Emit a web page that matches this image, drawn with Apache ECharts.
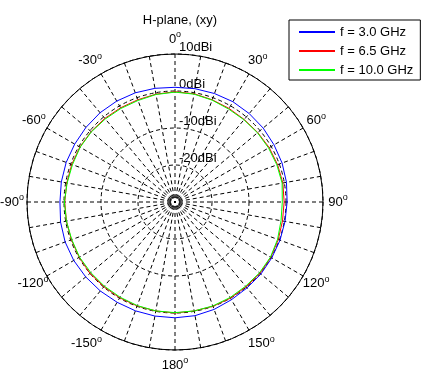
<!DOCTYPE html>
<html><head><meta charset="utf-8">
<script src="https://cdn.jsdelivr.net/npm/echarts@6/dist/echarts.min.js"></script>
<style>html,body{margin:0;padding:0;background:#fff}#c{width:423px;height:373px}</style>
</head><body><div id="c"></div>
<script>
// angle in degrees, clockwise from top (0..360)
const angles = [0,10,20,30,40,50,60,70,80,90,100,110,120,130,140,150,160,170,180,190,200,210,220,230,240,250,260,270,280,290,300,310,320,330,340,350,360];
const gain3 = [1.0,1.1,1.2,1.3,1.2,1.1,0.9,0.8,0.6,0.3,0.2,0.2,0.2,0.3,0.3,0.5,0.9,1.2,1.3,1.3,1.3,1.3,1.4,1.5,1.6,1.6,1.4,1.1,1.2,1.3,1.3,1.4,1.5,1.5,1.4,1.2,1.0];
const gain65 = [-0.2,-0.3,-0.6,-0.8,-0.9,-0.8,-0.6,-0.5,-0.4,-0.5,-0.5,-0.3,-0.1,0.0,-0.1,0.0,0.0,-0.1,0.0,-0.1,-0.1,-0.1,-0.1,0.0,-0.1,-0.2,-0.2,-0.2,-0.3,-0.3,-0.3,-0.4,-0.5,-0.6,-0.6,-0.4,-0.2];
const gain10 = [-0.3,-0.4,-0.7,-1.0,-1.0,-0.9,-0.8,-0.7,-0.6,-1.0,-0.9,-0.5,-0.2,-0.2,-0.3,-0.2,-0.1,-0.1,-0.1,-0.1,-0.2,-0.3,-0.3,-0.3,-0.2,-0.3,-0.2,-0.1,-0.4,-0.5,-0.4,-0.5,-0.7,-0.8,-0.8,-0.5,-0.3];
const seriesNames = ['f = 3.0 GHz','f = 6.5 GHz','f = 10.0 GHz'];
const seriesColors = ['#0000ff','#ff0000','#00ff00'];
const radiusMin = -30, radiusMax = 10, radiusStep = 10;
const radiusUnit = 'dBi';
const titleText = 'H-plane, (xy)';

const FONT = '"Liberation Sans", Arial, sans-serif';
const FS = 13, SUP = 9;
const POLAR_R = 148;
const LABEL_MARGIN = -2;     // echarts anchor offset beyond the circle
const LABEL_CENTER = 15;     // wanted label centre offset beyond the circle (MATLAB-like centring)
const LINE_H = 13;

// text measurement for label centring
const mctx = document.createElement('canvas').getContext('2d');
function tw(t, fs) { mctx.font = fs + 'px ' + FONT; return mctx.measureText(t).width; }

function angleText(v) { return String(v > 180 ? v - 360 : v); }

// build per-label rich styles so every label is centred at a fixed distance past the circle
const rich = {};
function styleFor(v) {
  const key = 'a' + v;
  if (rich[key + 'n']) return key;
  const th = v * Math.PI / 180;
  const s = Math.sin(th), c = Math.cos(th);
  const ra = POLAR_R + LABEL_MARGIN;
  const hAlign = Math.abs(s * ra) / POLAR_R < 0.3 ? 'center' : (s > 0 ? 'left' : 'right');
  const vAlign = Math.abs(c * ra) / POLAR_R < 0.3 ? 'middle' : (c > 0 ? 'bottom' : 'top');
  const d = (POLAR_R + LABEL_CENTER) - ra;
  const dx = d * s, dy = -d * c;
  const w = tw(angleText(v), FS) + tw('o', SUP);
  let padL = 0, padR = 0, extraV = 0;
  if (hAlign === 'left') padL = Math.max(0, dx - w / 2);
  if (hAlign === 'right') padR = Math.max(0, -dx - w / 2);
  if (vAlign === 'bottom') extraV = Math.max(0, -dy - LINE_H / 2);
  if (vAlign === 'top') extraV = Math.max(0, dy - LINE_H / 2);
  const lh = LINE_H + 2 * extraV;
  rich[key + 'n'] = {fontFamily: FONT, fontSize: FS, color: '#000', lineHeight: lh, padding: [0, 0, 0, padL]};
  rich[key + 's'] = {fontFamily: FONT, fontSize: SUP, color: '#000', verticalAlign: 'middle', lineHeight: SUP, padding: [0, padR, 8, 0]};
  return key;
}
for (let v = 0; v < 360; v += 30) styleFor(v);

const chart = echarts.init(document.getElementById('c'), null, {renderer:'canvas'});
const gains = [gain3, gain65, gain10];
chart.setOption({
  animation: false,
  backgroundColor: '#fff',
  title: {
    text: titleText, left: 175, top: 9, textAlign: 'center',
    textStyle: {fontFamily: FONT, fontSize: 13, fontWeight: 'normal', color: '#000'}
  },
  legend: {
    orient: 'vertical', left: 289, top: 20,
    padding: [5, 7, 3, 9], itemGap: 5,
    itemWidth: 36, itemHeight: 2,
    backgroundColor: '#fff', borderColor: '#000', borderWidth: 1, borderRadius: 0,
    textStyle: {fontFamily: FONT, fontSize: 13, color: '#000', lineHeight: 14},
    data: seriesNames
  },
  polar: {center: [175, 202], radius: POLAR_R},
  angleAxis: {
    type: 'value', min: 0, max: 360, interval: 10,
    startAngle: 90, clockwise: true,
    axisLine: {lineStyle: {color: '#000', width: 1}},
    axisTick: {show: false},
    splitLine: {show: true, lineStyle: {color: '#000', width: 1, type: [4, 3]}},
    axisLabel: {
      margin: LABEL_MARGIN,
      formatter: function (v) {
        if (v % 30 !== 0 || v >= 360) return '';
        const k = styleFor(v);
        return '{' + k + 'n|' + angleText(v) + '}{' + k + 's|o}';
      },
      rich: rich
    }
  },
  radiusAxis: {
    type: 'value', min: radiusMin, max: radiusMax, interval: radiusStep,
    axisLine: {show: false},
    axisTick: {show: false},
    splitLine: {show: true, lineStyle: {color: '#000', width: 1, type: [4, 3]}},
    axisLabel: {
      fontFamily: FONT, fontSize: 13, color: '#000',
      margin: -4, align: 'left', verticalAlign: 'bottom',
      formatter: function (v) { return v === radiusMin ? '' : v + radiusUnit; }
    }
  },
  series: gains.map((g, i) => ({
    name: seriesNames[i], type: 'line', coordinateSystem: 'polar',
    symbol: 'none', color: seriesColors[i],
    lineStyle: {color: seriesColors[i], width: 1},
    data: angles.map((a, j) => [g[j], a])
  }))
});
</script></body></html>
